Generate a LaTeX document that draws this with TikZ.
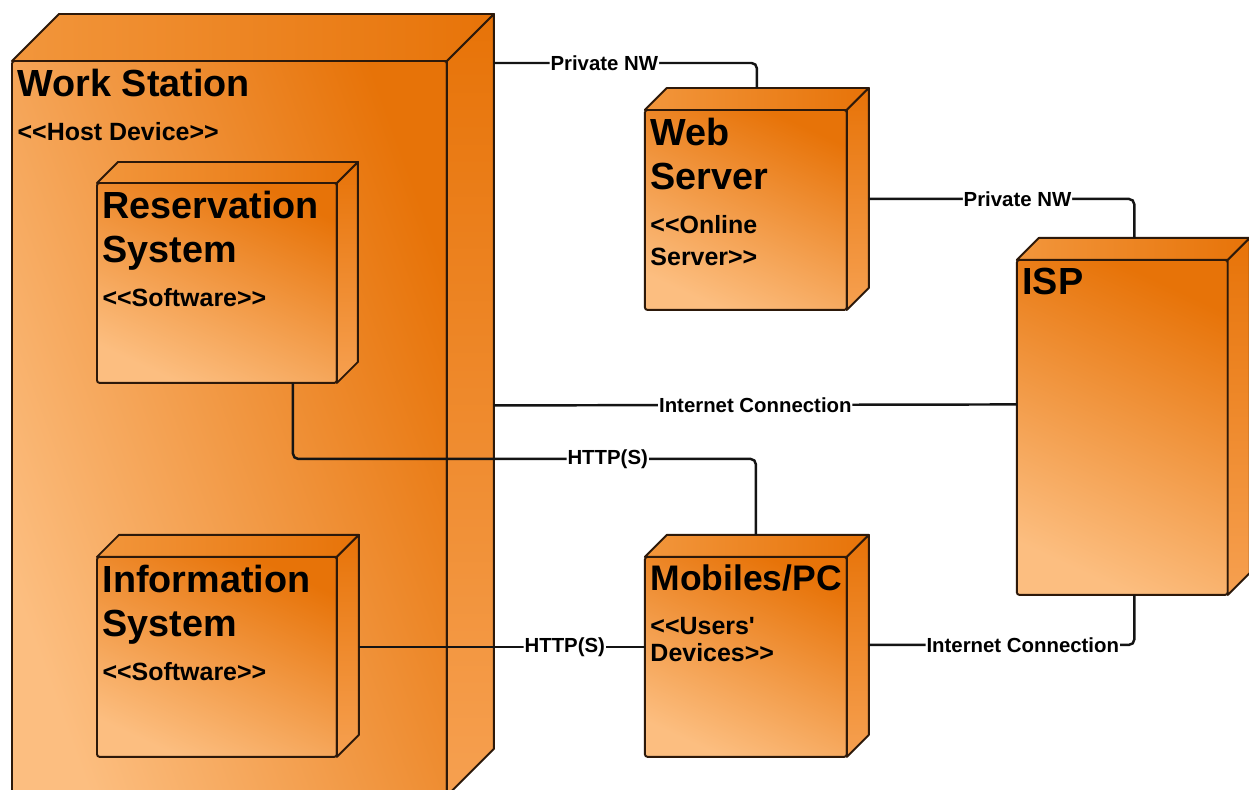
\documentclass[tikz,border=0pt]{standalone}
\usepackage{fontspec}
\setmainfont{Liberation Sans}[Ligatures=TeXOff]
\usetikzlibrary{positioning}

\definecolor{devdark}{RGB}{231,115,8}
\definecolor{devlight}{RGB}{252,190,128}
\definecolor{devtopl}{RGB}{242,150,60}
\definecolor{devside}{RGB}{246,160,80}
\definecolor{devedge}{RGB}{45,25,10}
\definecolor{wirecol}{RGB}{20,20,20}

\newcommand{\titlefont}{\bfseries\fontsize{21.5}{25}\selectfont}
\newcommand{\stereofont}{\bfseries\fontsize{14.2}{21}\selectfont}
\newcommand{\wirefont}{\bfseries\fontsize{11.6}{13}\selectfont}

% top and side faces of a device box: node name, depth
\newcommand{\devdepth}[2]{%
  \draw[topface] (#1.north west) -- ++(#2,-#2) -- ([shift={(#2,-#2)}]#1.north east) -- (#1.north east) -- cycle;
  \draw[sideface] (#1.north east) -- ++(#2,-#2) -- ([shift={(#2,-#2)}]#1.south east) -- (#1.south east) -- cycle;
}

\begin{document}
\begin{tikzpicture}[
    x=0.02cm, y=-0.02cm,
    device/.style={draw=devedge, line width=1.1pt, rounded corners=1.5pt, outer sep=0pt, inner sep=0pt,
        top color=devdark, bottom color=devlight, shading angle=-25},
    hostdevice/.style={device, top color=devdark, bottom color=devlight, shading angle=-70},
    topface/.style={draw=devedge, line width=1.1pt, line join=round, left color=devtopl, right color=devdark},
    sideface/.style={draw=devedge, line width=1.1pt, line join=round, top color=devdark, bottom color=devside},
    devtitle/.style={anchor=north west, align=left, inner xsep=3pt, inner ysep=4.5pt, font=\titlefont},
    wire/.style={draw=wirecol, line width=1.4pt, rounded corners=3pt},
    wirelabel/.style={fill=white, inner xsep=0.5pt, inner ysep=1pt, font=\wirefont}
]
    \useasboundingbox (0,0) rectangle (1249,790);
    \clip (0,0) rectangle (1249,790);
    \fill[white] (0,0) rectangle (1249,790);

    % Host device with its two software nodes
    \node[hostdevice, anchor=north west, minimum width=8.7cm, minimum height=14.7cm] (ws) at (12,61) {};
    \devdepth{ws}{47}
    \node[devtitle] (ws-name) at (ws.north west) {Work Station\\\stereofont <<Host Device>>};

    \node[device, minimum width=4.8cm, minimum height=4cm, below right=2.44cm and 1.7cm of ws.north west] (res) {};
    \devdepth{res}{21}
    \node[devtitle] (res-name) at (res.north west) {Reservation\\System\\\stereofont <<Software>>};

    \node[device, minimum width=4.8cm, minimum height=4cm, below=3.48cm of res] (inf) {};
    \devdepth{inf}{22}
    \node[devtitle] (inf-name) at (inf.north west) {Information\\System\\\stereofont <<Software>>};

    % Outside devices
    \node[device, minimum width=4.04cm, minimum height=4cm, right=6.16cm of inf] (mob) {};
    \devdepth{mob}{22}
    \node[devtitle, font=\bfseries\fontsize{20.2}{25}\selectfont] (mob-name) at (mob.north west) {Mobiles/PC\\\stereofont <<Users'\\[-10pt]\stereofont Devices>>};

    \node[device, minimum width=4.04cm, minimum height=4cm, above=4.94cm of mob] (web) {};
    \devdepth{web}{22}
    \node[devtitle] (web-name) at (web.north west) {Web\\Server\\\stereofont <<Online\\[-7pt]\stereofont Server>>};

    \node[device, minimum width=4.22cm, minimum height=6.7cm, below right=3cm and 3.4cm of web.north east] (isp) {};
    \devdepth{isp}{22}
    \node[devtitle] (isp-name) at (isp.north west) {ISP};

    % Connections
    \draw[wire] ([xshift=0.94cm, yshift=-0.04cm]ws.north east) -| node[wirelabel, pos=0.21] {Private NW} ([xshift=0.22cm, yshift=0.44cm]web.north);
    \draw[wire] ([xshift=0.44cm, yshift=0.22cm]web.east) -| node[wirelabel, pos=0.28] {Private NW} ([xshift=0.24cm, yshift=0.44cm]isp.north);
    \draw[wire] ([xshift=0.94cm, yshift=0.46cm]ws.east) -- node[wirelabel] {Internet Connection} ([yshift=0.46cm]isp.west);
    \draw[wire] ([xshift=1.52cm]res.south) -- ++(0,76) -| node[wirelabel, pos=0.34] {HTTP(S)} ([xshift=0.2cm, yshift=0.44cm]mob.north);
    \draw[wire] ([xshift=0.44cm, yshift=0.2cm]inf.east) -- node[wirelabel, pos=0.72] {HTTP(S)} ([yshift=0.2cm]mob.west);
    \draw[wire] ([xshift=0.44cm, yshift=0.24cm]mob.east) -| node[wirelabel, pos=0.29] {Internet Connection} ([xshift=0.24cm]isp.south);
\end{tikzpicture}
\end{document}
